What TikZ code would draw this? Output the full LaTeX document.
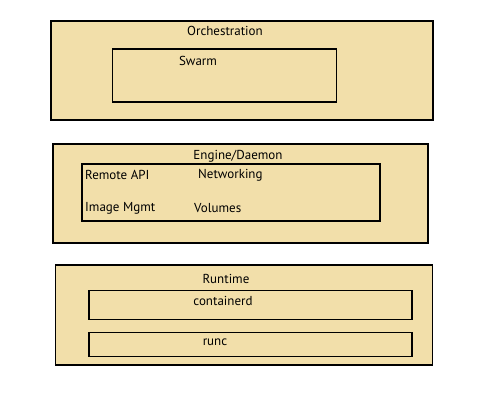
\documentclass[tikz,border=0pt]{standalone}
\usepackage{fontspec}
\setmainfont{PT Sans}
\definecolor{boxfill}{RGB}{242,223,170}
\begin{document}
\begin{tikzpicture}[x=1pt,y=-1pt,
  outerbox/.style={draw, fill=boxfill, line width=1.2pt, inner sep=0, rectangle},
  innerbox/.style={draw, line width=1.8pt, inner sep=0, rectangle},
  lbl/.style={font=\fontsize{13}{15}\selectfont, inner sep=0}]
\useasboundingbox (0,0) rectangle (499,407);
\node[outerbox, minimum width=382, minimum height=99] (orch) at (242,70.5){};
\node[innerbox, minimum width=224, minimum height=53] (swarm) at (224.5,75.5){};
\node[lbl] (orchtxt) at (225,31){Orchestration};
\node[lbl] (swarmtxt) at (198,61){Swarm};
\node[outerbox, minimum width=375, minimum height=99] (engine) at (240.5,193.5){};
\node[innerbox, minimum width=298, minimum height=57] (engin) at (231,192.5){};
\node[lbl] (enginetxt) at (238,156){Engine/Daemon};
\node[lbl, anchor=west] (api) at (85,175){Remote API};
\node[lbl, anchor=west] (net) at (198,175){Networking};
\node[lbl, anchor=west] (img) at (85,208){Image Mgmt};
\node[lbl, anchor=west] (vol) at (194,208){Volumes};
\node[outerbox, minimum width=377, minimum height=100] (runtime) at (244,315){};
\node[innerbox, minimum width=323, minimum height=29] (ctrd) at (250.5,305){};
\node[innerbox, minimum width=323, minimum height=24] (runc) at (250.5,344.5){};
\node[lbl] (runtimetxt) at (226,279){Runtime};
\node[lbl] (ctrdtxt) at (223,301){containerd};
\node[lbl] (runctxt) at (215,342){runc};
\end{tikzpicture}
\end{document}
